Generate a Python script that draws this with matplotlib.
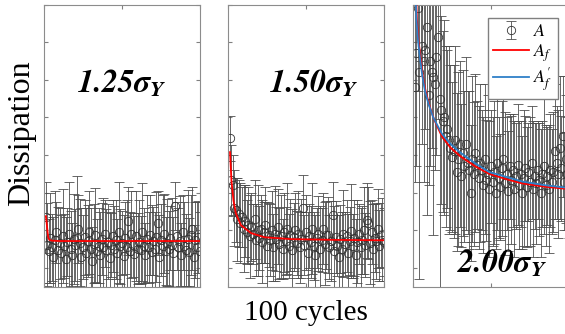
import numpy as np
import matplotlib.pyplot as plt

plt.rcParams['font.family'] = ['Liberation Serif', 'DejaVu Serif']
plt.rcParams['mathtext.fontset'] = 'stix'

cycles = np.arange(1, 101)

# 1.25 sigma_Y
diss_125 = [1.35, 0.62, 0.45, 0.80, 0.55, 0.30, 0.75, 0.95, 0.48, 0.66,
            0.40, 0.85, 0.58, 0.25, 0.70, 0.90, 0.52, 0.35, 0.78, 0.62,
            0.80, 1.05, 0.68, 0.30, 0.55, 0.82, 0.40, 0.72, 0.95, 0.50,
            0.20, 0.65, 0.88, 0.45, 0.60, 0.35, 0.78, 0.55, 0.92, 0.48,
            0.70, 0.28, 0.62, 0.85, 0.50, 0.75, 0.40, 0.95, 0.58, 0.68,
            0.32, 0.80, 0.55, 1.25, 0.45, 0.90, 0.62, 0.38, 0.85, 0.52,
            0.70, 0.48, 0.95, 0.60, 0.35, 0.78, 0.55, 0.88, 0.42, 0.72,
            0.50, 0.82, 1.20, 0.30, 0.75, 0.58, 0.92, 0.45, 0.68, 0.52,
            0.80, 0.62, 0.40, 1.65, 0.85, 0.55, 0.72, 0.35, 0.95, 0.60,
            0.48, 0.78, 0.42, 0.88, 1.05, 0.30, 0.75, 0.55, 0.82, 0.45]
err_125 = [0.95, 1.10, 0.85, 1.20, 0.90, 1.05, 1.30, 0.80, 1.15, 0.95,
           1.00, 1.25, 0.85, 1.10, 0.90, 1.40, 1.00, 0.85, 1.20, 0.95,
           1.65, 0.90, 1.15, 1.30, 0.85, 1.00, 1.20, 0.95, 1.10, 1.10,
           0.90, 1.05, 1.25, 0.85, 1.00, 1.15, 0.95, 1.30, 0.90, 1.10,
           1.00, 1.20, 0.85, 0.95, 1.15, 1.05, 0.90, 1.35, 1.00, 0.85,
           1.10, 0.95, 1.25, 0.90, 1.05, 1.15, 0.85, 1.00, 1.20, 0.95,
           1.10, 0.90, 1.30, 1.00, 0.85, 1.15, 0.95, 1.05, 1.25, 0.90,
           1.00, 1.20, 0.85, 1.10, 0.95, 1.35, 1.05, 0.90, 1.15, 1.00,
           0.85, 1.25, 0.95, 0.65, 0.90, 1.05, 1.20, 0.85, 1.00, 1.15,
           0.95, 1.30, 0.90, 1.05, 1.10, 0.85, 1.00, 1.20, 0.95, 1.05]
fitx_125 = [1.2, 1.6, 2.0, 2.4, 2.8, 3.5, 5, 10, 100]
fit_125 = [1.38, 1.25, 1.08, 0.92, 0.80, 0.75, 0.73, 0.72, 0.72]

# 1.50 sigma_Y
diss_150 = [3.45, 2.33, 2.20, 1.60, 1.55, 1.30, 1.45, 1.20, 1.35, 1.05,
            1.25, 0.95, 1.15, 0.85, 1.10, 0.90, 1.30, 0.75, 1.00, 0.80,
            1.05, 0.70, 0.95, 1.15, 0.60, 0.88, 0.75, 1.00, 0.55, 0.92,
            0.78, 1.10, 0.65, 0.85, 0.50, 0.95, 0.72, 1.05, 0.60, 0.88,
            0.48, 0.82, 1.00, 0.68, 0.90, 0.55, 0.78, 1.60, 0.62, 0.95,
            0.40, 0.85, 0.70, 1.05, 0.58, 0.35, 0.80, 0.92, 0.50, 0.75,
            1.05, 0.65, 0.88, 0.88, 0.55, 0.72, 1.40, 0.45, 0.82, 0.60,
            0.30, 0.78, 0.50, 0.92, 0.65, 0.85, 0.40, 0.72, 0.98, 0.58,
            0.80, 0.35, 0.70, 0.90, 0.55, 0.75, 1.00, 0.62, 1.27, 1.20,
            0.68, 0.95, 0.50, 0.80, 0.72, 1.05, 0.60, 0.88, 0.75, 0.70]
err_150 = [0.60, 0.95, 0.80, 1.00, 0.85, 1.10, 0.90, 1.05, 0.80, 1.15,
           0.95, 0.85, 1.00, 1.10, 0.90, 0.80, 1.05, 0.95, 1.20, 0.85,
           0.90, 1.10, 0.80, 1.00, 1.15, 0.85, 0.95, 1.05, 0.90, 1.25,
           0.85, 1.00, 0.95, 1.10, 0.80, 1.05, 0.90, 1.20, 0.85, 0.95,
           1.10, 0.90, 1.00, 0.85, 1.15, 0.95, 1.05, 0.87, 0.80, 1.00,
           1.10, 0.85, 0.95, 1.20, 0.90, 1.05, 0.80, 1.00, 1.15, 0.85,
           0.95, 1.10, 0.90, 1.00, 0.85, 1.05, 0.90, 1.20, 0.95, 0.80,
           1.10, 0.90, 1.00, 1.15, 0.85, 0.95, 1.05, 0.90, 1.25, 0.85,
           1.00, 0.95, 1.10, 0.80, 1.05, 0.90, 1.15, 0.85, 1.00, 0.95,
           1.10, 0.85, 1.20, 0.90, 1.00, 1.05, 0.95, 0.85, 1.10, 0.90]
fitx_150 = [1.3, 2.2, 3.5, 5, 8.3, 14.8, 23.5, 41, 70, 100]
fit_150 = [3.08, 2.33, 1.80, 1.46, 1.14, 0.93, 0.82, 0.77, 0.75, 0.74]

# 2.00 sigma_Y
diss_200 = [4.80, 5.70, 6.90, 5.20, 7.50, 5.90, 5.50, 5.80, 6.40, 4.60,
            5.50, 5.20, 5.07, 4.90, 5.60, 6.15, 4.50, 4.20, 3.90, 4.00,
            3.50, 3.70, 3.40, 3.20, 2.95, 3.10, 3.40, 2.55, 2.90, 3.30,
            2.45, 3.05, 2.70, 3.30, 2.80, 2.60, 2.00, 2.90, 2.50, 3.05,
            2.75, 2.40, 2.80, 2.60, 2.20, 2.90, 2.33, 2.50, 2.10, 2.70,
            2.30, 2.55, 2.00, 2.80, 2.40, 2.15, 2.65, 2.90, 2.25, 2.50,
            2.05, 2.70, 2.35, 2.60, 2.10, 2.45, 2.75, 2.20, 2.50, 2.00,
            2.40, 2.65, 2.15, 2.55, 2.30, 2.80, 2.10, 2.45, 2.25, 2.60,
            2.35, 2.00, 2.50, 2.70, 2.20, 2.45, 2.10, 2.60, 2.30, 2.55,
            3.10, 2.80, 2.50, 3.20, 2.65, 3.50, 2.30, 2.90, 2.50, 2.20]
err_200 = [2.5, 3.0, 2.2, 5.5, 2.0, 2.6, 3.2, 2.1, 5.0, 2.4,
           2.8, 2.0, 4.2, 2.3, 2.6, 2.2, 7.5, 2.5, 2.4, 2.6,
           2.4, 2.1, 2.5, 2.2, 2.0, 2.3, 2.5, 2.1, 2.3, 2.2,
           1.9, 2.2, 2.0, 2.3, 1.9, 2.1, 1.8, 2.2, 1.9, 2.1,
           1.7, 1.9, 2.1, 1.6, 1.8, 2.0, 1.6, 2.1, 1.8, 1.5,
           1.7, 1.9, 1.5, 1.8, 1.6, 1.4, 1.8, 1.6, 1.9, 1.5,
           1.6, 1.4, 1.7, 1.5, 1.8, 1.4, 1.6, 1.7, 1.4, 1.5,
           1.8, 1.4, 1.6, 1.3, 1.7, 1.5, 1.8, 1.4, 1.6, 1.3,
           1.5, 1.7, 1.4, 1.8, 1.6, 1.3, 1.7, 1.5, 1.4, 1.6,
           1.8, 1.5, 1.7, 1.9, 1.4, 1.6, 1.3, 1.7, 1.5, 1.4]
fitx_200 = [1.8, 2.5, 3.5, 4.8, 6.3, 8, 10.5, 13.5, 18.5, 24, 30, 40, 49, 60, 70, 85, 100]
fit_200 = [7.5, 6.6, 6.05, 5.6, 5.1, 4.72, 4.32, 3.95, 3.5, 3.2, 2.98, 2.7, 2.5, 2.36, 2.25, 2.16, 2.1]
fitx2_200 = [1.5, 2.2, 3.2, 4.4, 6, 7.6, 10, 13, 18.5, 24, 30, 40, 49, 60, 70, 85, 100]
fit2_200 = [7.5, 6.58, 6.05, 5.6, 5.1, 4.72, 4.35, 4.0, 3.57, 3.3, 3.08, 2.78, 2.55, 2.42, 2.3, 2.2, 2.13]

panels = [
    (diss_125, err_125, fitx_125, fit_125, r'$\mathbfit{1.25\sigma_Y}$', (0.5, 0.69)),
    (diss_150, err_150, fitx_150, fit_150, r'$\mathbfit{1.50\sigma_Y}$', (0.55, 0.69)),
    (diss_200, err_200, fitx_200, fit_200, r'$\mathbfit{2.00\sigma_Y}$', (0.57, 0.053)),
]

fig = plt.figure(figsize=(5.65, 3.34), dpi=100)
lefts = [44, 228, 413]
axes = []
for left, (y, e, fx, fy, lab, pos) in zip(lefts, panels):
    ax = fig.add_axes([left / 565, 1 - 287 / 334, 156 / 565, 282.5 / 334])
    h_err = ax.errorbar(cycles, y, yerr=e, fmt='o', mfc='none', mec='0.2', ms=6, mew=0.6,
                        ecolor='0.3', elinewidth=0.6, capsize=3.5, capthick=0.6, zorder=2)
    h_red, = ax.plot(fx, fy, color='red', lw=1.3, zorder=3)
    ax.set_xlim(0, 100)
    ax.set_ylim(-0.5, 7)
    ax.set_xticks([0, 50, 100])
    ax.set_yticks(range(8))
    ax.set_xticklabels([])
    ax.set_yticklabels([])
    ax.tick_params(direction='in', length=3, color='0.5', top=True, right=True)
    for s in ax.spines.values():
        s.set_color('0.55')
        s.set_linewidth(0.8)
    ax.text(pos[0], pos[1], lab, transform=ax.transAxes, ha='center', va='baseline', fontsize=23)
    axes.append(ax)

h_blue, = axes[2].plot(fitx2_200, fit2_200, color='#2f80c8', lw=1.3, zorder=3)
axes[2].legend([h_err, h_red, h_blue], [r'$A$', r'$A_f$', r'$A^{\prime}_{f}$'],
               loc='upper left', bbox_to_anchor=(0.48, 0.952), borderaxespad=0,
               fontsize=13, fancybox=False, framealpha=1, edgecolor='0.5',
               handlelength=2.0, handletextpad=0.2, borderpad=0.3, labelspacing=0.1)

fig.text(0.039, 0.602, 'Dissipation', rotation=90, ha='center', va='center', fontsize=23)
fig.text(0.5416, 0.042, '100 cycles', ha='center', va='baseline', fontsize=21)

fig.savefig('out.png', dpi=100)
